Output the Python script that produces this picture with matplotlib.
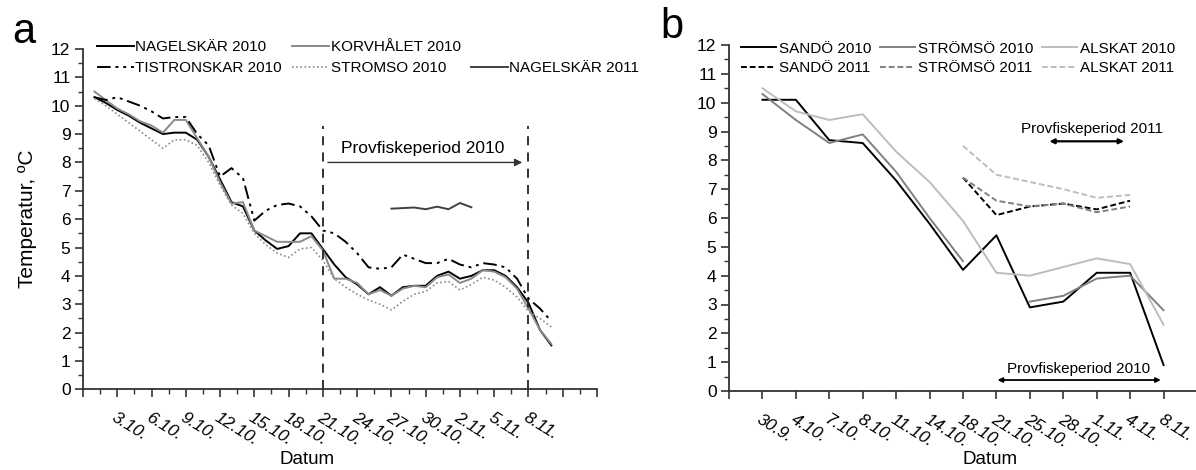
import numpy as np
import matplotlib.pyplot as plt
from matplotlib.lines import Line2D
from matplotlib.ticker import MultipleLocator

plt.rcParams['font.family'] = ['Liberation Sans', 'DejaVu Sans']

# ---- panel a: daily temperatures, day 0 = 30.9.
days_a = np.arange(1, 42)
nagelskar_2010 = [10.3, 10.1, 9.85, 9.65, 9.4, 9.2, 9.0, 9.05, 9.05, 8.8,
                  8.2, 7.4, 6.6, 6.45, 5.6, 5.25, 4.95, 5.05, 5.5, 5.5,
                  4.95, 4.4, 3.95, 3.7, 3.35, 3.6, 3.3, 3.6, 3.65, 3.65,
                  4.0, 4.15, 3.9, 4.0, 4.2, 4.2, 4.0, 3.6, 3.05, 2.1, 1.55]
korvhalet_2010 = [10.5, 10.2, 9.9, 9.7, 9.45, 9.3, 9.05, 9.5, 9.5, 8.85,
                  8.2, 7.3, 6.55, 6.6, 5.6, 5.4, 5.2, 5.2, 5.2, 5.4,
                  4.9, 3.9, 3.9, 3.75, 3.35, 3.5, 3.3, 3.55, 3.65, 3.6,
                  3.95, 4.05, 3.75, 3.9, 4.2, 4.15, 3.95, 3.55, 2.85, 2.1, 1.6]
tistronskar_2010 = [10.3, 10.2, 10.3, 10.15, 10.0, 9.8, 9.55, 9.6, 9.6, 9.0,
                    8.6, 7.5, 7.8, 7.45, 5.95, 6.3, 6.5, 6.55, 6.45, 6.1,
                    5.6, 5.5, 5.2, 4.8, 4.3, 4.25, 4.3, 4.75, 4.6, 4.45,
                    4.45, 4.6, 4.4, 4.3, 4.45, 4.4, 4.3, 3.9, 3.2, 2.85, 2.4]
stromso_2010 = [10.25, 10.0, 9.7, 9.4, 9.1, 8.8, 8.5, 8.8, 8.8, 8.6,
                8.0, 7.2, 6.5, 6.2, 5.5, 5.1, 4.8, 4.65, 4.95, 5.0,
                4.55, 3.9, 3.6, 3.35, 3.15, 3.0, 2.8, 3.1, 3.35, 3.45,
                3.75, 3.8, 3.5, 3.7, 3.95, 3.85, 3.6, 3.25, 2.75, 2.5, 2.2]
days_nag_2011 = np.arange(27, 35)
nagelskar_2011 = [6.37, 6.39, 6.41, 6.35, 6.44, 6.35, 6.57, 6.42]

tick_days_a = np.arange(3, 40, 3)
tick_labels_a = ['3.10.', '6.10.', '9.10.', '12.10.', '15.10.', '18.10.', '21.10.',
                 '24.10.', '27.10.', '30.10.', '2.11.', '5.11.', '8.11.']
period_a = (21, 39)

# ---- panel b: sampling dates (categorical positions 1..13)
dates_b = ['30.9.', '4.10.', '7.10.', '8.10.', '11.10.', '14.10.', '18.10.',
           '21.10.', '25.10.', '28.10.', '1.11.', '4.11.', '8.11.']
pos_b = np.arange(1, len(dates_b) + 1)
nan = np.nan
sando_2010 = [10.1, 10.1, 8.7, 8.6, 7.3, 5.8, 4.2, 5.4, 2.9, 3.1, 4.1, 4.1, 0.9]
stromso_b_2010 = [10.3, 9.4, 8.6, 8.9, 7.6, 6.0, 4.5, nan, 3.1, 3.3, 3.9, 4.0, 2.8]
alskat_2010 = [10.5, 9.7, 9.4, 9.6, 8.3, 7.25, 5.9, 4.1, 4.0, 4.3, 4.6, 4.4, 2.3]
sando_2011 = [nan] * 6 + [7.4, 6.1, 6.4, 6.5, 6.3, 6.6, nan]
stromso_b_2011 = [nan] * 6 + [7.4, 6.6, 6.4, 6.5, 6.2, 6.4, nan]
alskat_2011 = [nan] * 6 + [8.5, 7.5, 7.25, 7.0, 6.7, 6.8, nan]
period_b_2010 = (7.95, 13.0)
period_b_2011 = (9.5, 11.9)

W, H = 1196, 470
fig = plt.figure(figsize=(W / 100, H / 100), dpi=100)
ax1 = fig.add_axes([83 / W, (H - 389.3) / H, 514 / W, 340.3 / H])
ax2 = fig.add_axes([729 / W, (H - 391) / H, 468 / W, 346 / H])

dashdotdot = (0, (7, 2.5, 1.5, 2.5, 1.5, 2.5))

ax1.plot(days_a, nagelskar_2010, color='black', lw=1.4, label='NAGELSKÄR 2010')
ax1.plot(days_a, korvhalet_2010, color='#8a8a8a', lw=1.4, label='KORVHÅLET 2010')
ax1.plot(days_a, tistronskar_2010, color='black', lw=1.4, ls=dashdotdot, label='TISTRONSKAR 2010')
ax1.plot(days_a, stromso_2010, color='#8a8a8a', lw=1.2, ls=(0, (1, 1.5)), label='STROMSO 2010')
ax1.plot(days_nag_2011, nagelskar_2011, color='#404040', lw=1.4, label='NAGELSKÄR 2011')

ax1.vlines(period_a, 0, 9.3, colors='#222222', linestyles=(0, (5, 4)), lw=1.3)
ax1.annotate('', xy=(period_a[1] - 0.3, 8.0), xytext=(period_a[0] + 0.2, 8.0),
             arrowprops=dict(arrowstyle='-|>', color='#333333', lw=1, mutation_scale=11))
ax1.text(29.7, 8.5, 'Provfiskeperiod 2010', ha='center', va='center', fontsize=12.5)

ax2.plot(pos_b, sando_2010, color='black', lw=1.4, label='SANDÖ 2010')
ax2.plot(pos_b, sando_2011, color='black', lw=1.4, ls=(0, (3, 1.5)), label='SANDÖ 2011')
ax2.plot(pos_b, stromso_b_2010, color='#808080', lw=1.4, label='STRÖMSÖ 2010')
ax2.plot(pos_b, stromso_b_2011, color='#808080', lw=1.4, ls=(0, (3, 1.5)), label='STRÖMSÖ 2011')
ax2.plot(pos_b, alskat_2010, color='#bdbdbd', lw=1.4, label='ALSKAT 2010')
ax2.plot(pos_b, alskat_2011, color='#bdbdbd', lw=1.4, ls=(0, (3, 1.5)), label='ALSKAT 2011')

ax2.annotate('', xy=(period_b_2011[1], 8.66), xytext=(period_b_2011[0], 8.66),
             arrowprops=dict(arrowstyle='<|-|>', color='black', lw=1.6, mutation_scale=7))
ax2.text(10.85, 9.09, 'Provfiskeperiod 2011', ha='center', va='center', fontsize=11)
ax2.annotate('', xy=(period_b_2010[1], 0.38), xytext=(period_b_2010[0], 0.38),
             arrowprops=dict(arrowstyle='<|-|>', color='black', lw=1.3, mutation_scale=7))
ax2.text(10.47, 0.76, 'Provfiskeperiod 2010', ha='center', va='center', fontsize=11)

for ax in (ax1, ax2):
    ax.set_ylim(0, 12)
    ax.yaxis.set_major_locator(MultipleLocator(1))
    ax.yaxis.set_minor_locator(MultipleLocator(0.5))
    for s in ('top', 'right'):
        ax.spines[s].set_visible(False)
    ax.spines['left'].set_color('#333333')
    ax.spines['bottom'].set_color('#333333')
    ax.spines['left'].set_linewidth(1.3)
    ax.spines['bottom'].set_linewidth(1.3)
    ax.tick_params(which='major', direction='out', length=6, width=1.2, color='#333333',
                   labelsize=12.5, pad=3)
    ax.tick_params(which='minor', direction='out', length=3.5, width=1.0, color='#333333')
    ax.tick_params(axis='x', which='major', pad=9)

ax1.set_xlim(0, 45)
ax1.set_xticks(np.arange(0, 46, 3))
ax1.set_xticks(np.arange(0, 46, 1.5), minor=True)
ax1.set_xticklabels([''] + tick_labels_a + ['', ''])
ax2.set_xlim(0, 14)
ax2.set_xticks(np.arange(0, 15))
ax2.set_xticklabels([''] + dates_b + [''])

for ax in (ax1, ax2):
    for lab in ax.get_xticklabels():
        lab.set_rotation(-32)
        lab.set_ha('left')
        lab.set_va('top')
        lab.set_rotation_mode('anchor')
        lab.set_style('italic')
        lab.set_fontsize(12.5)

ax1.set_ylabel('Temperatur, ºC', fontsize=15, labelpad=10)
fig.text(307 / W, 1 - 459 / H, 'Datum', ha='center', va='center', fontsize=13.5)
fig.text(990 / W, 1 - 459 / H, 'Datum', ha='center', va='center', fontsize=13.5)
fig.text(12 / W, 1 - 43 / H, 'a', fontsize=30, va='baseline')
fig.text(660 / W, 1 - 38 / H, 'b', fontsize=30, va='baseline')

# legends
h = ax1.get_legend_handles_labels()
blank = Line2D([], [], color='none')
hd = dict(zip(h[1], h[0]))
order_a = ['NAGELSKÄR 2010', 'TISTRONSKAR 2010', 'KORVHÅLET 2010', 'STROMSO 2010', '', 'NAGELSKÄR 2011']
ax1.legend([hd.get(k, blank) for k in order_a], order_a, ncol=3, loc='upper left',
           bbox_to_anchor=(0.027, 1.025), frameon=False, fontsize=11, handlelength=2.4,
           handletextpad=0.1, columnspacing=0.7, labelspacing=0.45, borderpad=0,
           borderaxespad=0)
ax2.legend(ncol=3, loc='upper left', bbox_to_anchor=(0.026, 1.01), frameon=False,
           fontsize=11, handlelength=2.3, handletextpad=0.15, columnspacing=0.6,
           labelspacing=0.35, borderpad=0, borderaxespad=0)

fig.savefig('out.png', dpi=100)
